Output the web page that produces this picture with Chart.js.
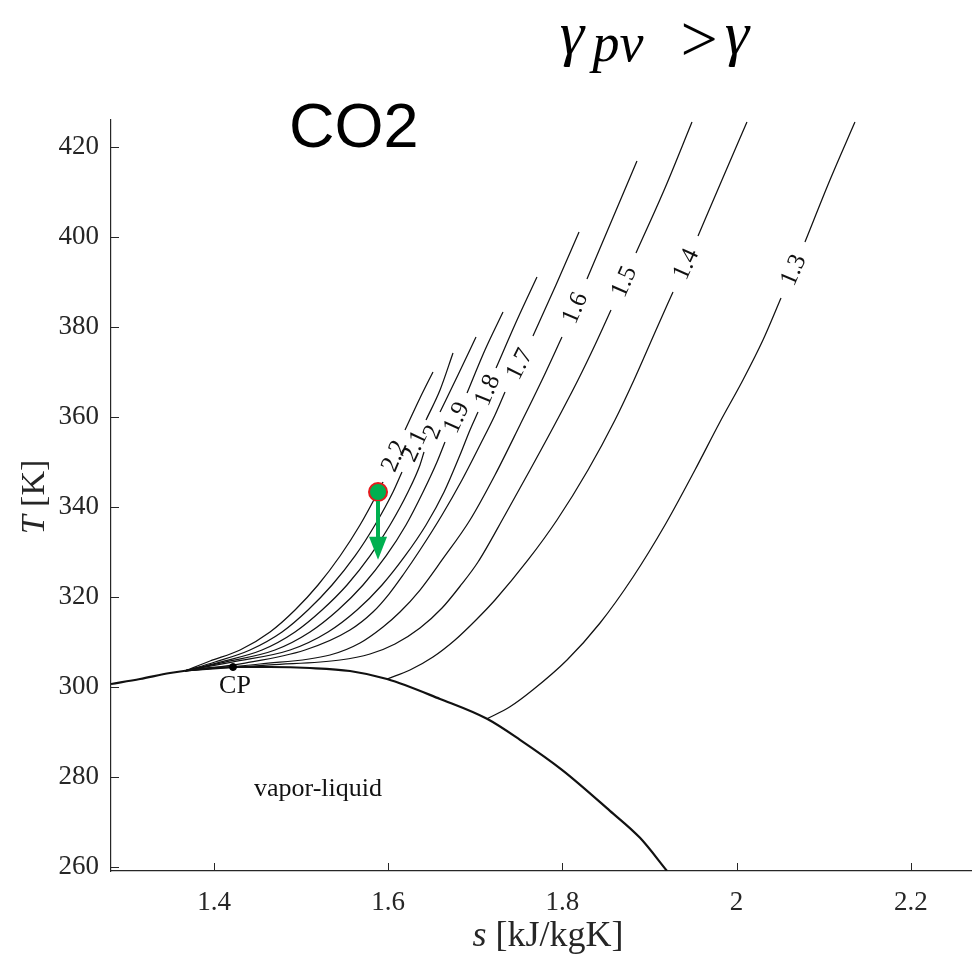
<!DOCTYPE html>
<html>
<head>
<meta charset="utf-8">
<script src="https://cdn.jsdelivr.net/npm/chart.js@4.4.1/dist/chart.umd.min.js"></script>
<style>
  html, body { margin: 0; padding: 0; background: #fff; }
  #wrap { width: 972px; height: 955px; position: relative; }
</style>
</head>
<body>
<div id="wrap"><canvas id="c" width="972" height="955"></canvas></div>
<script>
// Axis ticks
const sTicks = [1.4, 1.6, 1.8, 2.0, 2.2];
const tTicks = [260, 280, 300, 320, 340, 360, 380, 400, 420];

// Saturation dome (kJ/kgK, K)
const s_sat = [1.2817, 1.3150, 1.3495, 1.3839, 1.4218, 1.4643, 1.5102, 1.5561, 1.5986, 1.6595, 1.7134, 1.7513, 1.7995, 1.8546, 1.8891, 1.9201];
const T_sat = [300.58, 301.69, 303.03, 303.92, 304.36, 304.36, 304.14, 303.47, 301.69, 297.26, 292.84, 288.17, 281.50, 272.38, 266.37, 259.0];

// Critical point
const s_cp = [1.4218];
const T_cp = [304.36];

// Iso-gamma contours; null marks where the contour label sits
const s_13 = [1.7134, 1.7398, 1.7662, 1.8053, 1.8432, 1.8811, 1.9178, 1.9522, 1.9809, 2.0073, 2.0303, 2.0510, null, 2.0785, 2.1072, 2.1359];
const T_13 = [292.84, 295.51, 299.29, 305.92, 314.15, 324.38, 335.94, 348.17, 358.85, 368.19, 377.08, 386.42, null, 398.87, 412.67, 425.56];

const s_14 = [1.5986, 1.6250, 1.6514, 1.6767, 1.7008, 1.7226, 1.7605, 1.7938, 1.8294, 1.8604, 1.8822, 1.9075, 1.9270, null, 1.9557, 1.9832, 2.0119];
const T_14 = [301.69, 303.69, 306.58, 310.37, 314.82, 319.26, 328.16, 337.05, 348.17, 359.29, 368.19, 379.31, 387.76, null, 400.21, 412.67, 425.56];

const s_15 = [1.3667, 1.4643, 1.5447, 1.5791, 1.6078, 1.6365, 1.6618, 1.6836, 1.7031, 1.7341, 1.7628, 1.7915, 1.8179, 1.8374, 1.8558, null, 1.8845, 1.9178, 1.9488];
const T_15 = [303.50, 304.81, 305.92, 307.25, 309.48, 313.04, 317.48, 322.60, 327.71, 338.17, 348.17, 358.40, 368.19, 375.97, 383.75, null, 396.43, 410.88, 425.56];

const s_16 = [1.3667, 1.4528, 1.5332, 1.5676, 1.5940, 1.6135, 1.6365, 1.6618, 1.6939, 1.7226, 1.7513, 1.7766, 1.7995, null, 1.8282, 1.8569, 1.8856];
const T_16 = [303.50, 305.03, 307.03, 309.70, 313.26, 316.59, 321.48, 328.16, 337.05, 347.06, 358.18, 368.19, 377.75, null, 390.65, 403.77, 416.89];

const s_17 = [1.3667, 1.4356, 1.5045, 1.5561, 1.5825, 1.6009, 1.6170, 1.6365, 1.6618, 1.6847, 1.7054, 1.7226, 1.7341, null, 1.7662, 1.7926, 1.8191];
const T_17 = [303.50, 305.25, 308.14, 312.59, 316.59, 320.59, 324.82, 330.38, 338.17, 345.95, 353.73, 360.40, 365.52, null, 377.97, 389.31, 401.10];

const s_18 = [1.3667, 1.4207, 1.4873, 1.5309, 1.5642, 1.5929, 1.6193, 1.6434, 1.6641, 1.6824, 1.6939, 1.7031, null, 1.7238, 1.7479, 1.7708];
const T_18 = [303.50, 305.47, 308.14, 312.15, 317.04, 322.60, 329.05, 335.94, 343.28, 351.51, 357.07, 361.07, null, 370.85, 381.53, 391.09];

const s_19 = [1.3667, 1.4126, 1.4700, 1.5102, 1.5424, 1.5711, 1.5975, 1.6204, 1.6400, 1.6560, 1.6652, null, 1.6905, 1.7111, 1.7318];
const T_19 = [303.50, 305.47, 308.14, 312.15, 317.04, 322.60, 329.05, 335.94, 343.28, 349.95, 354.40, null, 365.30, 374.86, 383.31];

const s_20 = [1.3667, 1.4069, 1.4551, 1.4930, 1.5240, 1.5527, 1.5791, 1.6021, 1.6227, 1.6365, 1.6411, null, 1.6595, 1.6801, 1.7008];
const T_20 = [303.50, 305.47, 308.14, 312.15, 317.04, 322.60, 329.05, 335.94, 343.28, 349.29, 352.18, null, 361.07, 369.30, 377.75];

const s_21 = [1.3667, 1.4011, 1.4413, 1.4781, 1.5079, 1.5355, 1.5619, 1.5848, 1.6055, 1.6158, null, 1.6434, 1.6595, 1.6744];
const T_21 = [303.50, 305.47, 308.14, 312.15, 317.04, 322.60, 329.05, 335.94, 343.28, 347.73, null, 359.29, 365.96, 374.19];

const s_22 = [1.3667, 1.3954, 1.4299, 1.4643, 1.4930, 1.5194, 1.5447, 1.5676, 1.5883, 1.5940, null, 1.6193, 1.6365, 1.6514];
const T_22 = [303.50, 305.70, 308.14, 312.15, 317.04, 322.60, 329.05, 335.94, 343.28, 345.51, null, 357.07, 364.18, 369.97];

const gammaLabels = ['1.3', '1.4', '1.5', '1.6', '1.7', '1.8', '1.9', '2', '2.1', '2.2'];
const curveS = [s_13, s_14, s_15, s_16, s_17, s_18, s_19, s_20, s_21, s_22];
const curveT = [T_13, T_14, T_15, T_16, T_17, T_18, T_19, T_20, T_21, T_22];

// Marked state and its downward move
const s_state = [1.5883];
const T_state = [343.28];
const T_stateEnd = [328.2];

const SERIF = '"Liberation Serif", "DejaVu Serif", serif';
const SANS = '"Liberation Sans", Arial, sans-serif';
const AXIS_COLOR = '#262626';
const GREEN = 'rgb(0,176,80)';

function toPoints(sArr, tArr) {
  const pts = [];
  for (let i = 0; i < sArr.length; i++) {
    if (tArr[i] === null) {
      pts.push({ x: sArr[i - 1], y: null });
    } else {
      pts.push({ x: sArr[i], y: tArr[i] });
    }
  }
  return pts;
}

const datasets = [];
datasets.push({
  label: 'state',
  data: toPoints(s_state, T_state),
  showLine: false,
  pointRadius: 9,
  pointBackgroundColor: GREEN,
  pointBorderColor: '#e41a1c',
  pointBorderWidth: 2,
  order: 0
});
datasets.push({
  label: 'sat',
  data: toPoints(s_sat, T_sat),
  showLine: true,
  borderColor: '#111',
  borderWidth: 2.2,
  pointRadius: 0,
  cubicInterpolationMode: 'monotone',
  order: 2
});
datasets.push({
  label: 'cp',
  data: toPoints(s_cp, T_cp),
  showLine: false,
  pointRadius: 3.5,
  pointBackgroundColor: '#000',
  pointBorderColor: '#000',
  order: 1
});
curveS.forEach((sArr, k) => {
  datasets.push({
    label: 'gamma ' + gammaLabels[k],
    data: toPoints(sArr, curveT[k]),
    showLine: true,
    spanGaps: false,
    borderColor: '#111',
    borderWidth: 1.25,
    pointRadius: 0,
    cubicInterpolationMode: 'monotone',
    order: 3
  });
});

function drawMixed(ctx, parts, x, y, align) {
  let total = 0;
  parts.forEach(p => { ctx.font = p.font; p.w = ctx.measureText(p.text).width; total += p.w; });
  let cx = align === 'center' ? x - total / 2 : x;
  parts.forEach(p => {
    ctx.font = p.font;
    ctx.textAlign = 'left';
    ctx.fillText(p.text, cx, y + (p.dy || 0));
    cx += p.w;
  });
}

const decorations = {
  id: 'decorations',
  afterDatasetsDraw(chart) {
    const ctx = chart.ctx;
    const xs = chart.scales.x, ys = chart.scales.y;
    const area = chart.chartArea;

    // inward tick marks
    ctx.save();
    ctx.strokeStyle = AXIS_COLOR;
    ctx.lineWidth = 1;
    sTicks.forEach(v => {
      const px = Math.round(xs.getPixelForValue(v)) + 0.5;
      ctx.beginPath(); ctx.moveTo(px, area.bottom); ctx.lineTo(px, area.bottom - 8); ctx.stroke();
    });
    tTicks.forEach(v => {
      const py = Math.round(ys.getPixelForValue(v)) + 0.5;
      ctx.beginPath(); ctx.moveTo(area.left, py); ctx.lineTo(area.left + 8, py); ctx.stroke();
    });
    ctx.restore();

    // contour labels in the line gaps
    ctx.save();
    ctx.fillStyle = '#111';
    ctx.font = '25px ' + SERIF;
    ctx.textAlign = 'center';
    ctx.textBaseline = 'middle';
    curveS.forEach((sArr, k) => {
      const tArr = curveT[k];
      const i = tArr.indexOf(null);
      const x1 = xs.getPixelForValue(sArr[i - 1]), y1 = ys.getPixelForValue(tArr[i - 1]);
      const x2 = xs.getPixelForValue(sArr[i + 1]), y2 = ys.getPixelForValue(tArr[i + 1]);
      const ang = Math.atan2(y2 - y1, x2 - x1);
      ctx.save();
      ctx.translate((x1 + x2) / 2, (y1 + y2) / 2);
      ctx.rotate(ang);
      ctx.fillText(gammaLabels[k], 0, 1);
      ctx.restore();
    });
    ctx.restore();

    // region / point annotations
    ctx.save();
    ctx.fillStyle = '#111';
    ctx.textBaseline = 'alphabetic';
    ctx.textAlign = 'center';
    ctx.font = '26px ' + SERIF;
    ctx.fillText('CP', xs.getPixelForValue(s_cp[0]) + 2, ys.getPixelForValue(T_cp[0]) + 26);
    ctx.fillText('vapor-liquid', 318, 796);
    ctx.restore();

    // arrow from the marked state
    ctx.save();
    const ax = xs.getPixelForValue(s_state[0]);
    const ay0 = ys.getPixelForValue(T_state[0]) + 9;
    const ay1 = ys.getPixelForValue(T_stateEnd[0]);
    ctx.strokeStyle = GREEN;
    ctx.fillStyle = GREEN;
    ctx.lineWidth = 4;
    ctx.beginPath(); ctx.moveTo(ax, ay0); ctx.lineTo(ax, ay1 - 18); ctx.stroke();
    ctx.beginPath();
    ctx.moveTo(ax - 9, ay1 - 23);
    ctx.lineTo(ax + 9, ay1 - 23);
    ctx.lineTo(ax, ay1);
    ctx.closePath();
    ctx.fill();
    ctx.restore();
  },
  afterDraw(chart) {
    const ctx = chart.ctx;
    ctx.save();
    ctx.fillStyle = AXIS_COLOR;
    ctx.textBaseline = 'alphabetic';
    // x axis title
    drawMixed(ctx, [
      { text: 's', font: 'italic 36px ' + SERIF },
      { text: ' [kJ/kgK]', font: '36px ' + SERIF }
    ], 548, 946, 'center');
    // y axis title
    ctx.save();
    ctx.translate(44, 497);
    ctx.rotate(-Math.PI / 2);
    drawMixed(ctx, [
      { text: 'T', font: 'italic 34px ' + SERIF },
      { text: ' [K]', font: '34px ' + SERIF }
    ], 0, 0, 'center');
    ctx.restore();
    ctx.restore();

    // headline texts
    ctx.save();
    ctx.fillStyle = '#000';
    ctx.textBaseline = 'alphabetic';
    ctx.font = '63px ' + SANS;
    ctx.textAlign = 'left';
    ctx.fillText('CO2', 289, 147);
    ctx.textAlign = 'center';
    ctx.font = 'italic 62px ' + SERIF;
    ctx.fillText('γ', 572, 54);
    ctx.font = 'italic 54px ' + SERIF;
    ctx.fillText('pv', 618, 61);
    ctx.font = '66px ' + SERIF;
    ctx.fillText('>', 699, 61);
    ctx.font = 'italic 62px ' + SERIF;
    ctx.fillText('γ', 737, 54);
    ctx.restore();
  }
};

new Chart(document.getElementById('c'), {
  type: 'scatter',
  data: { datasets },
  options: {
    responsive: false,
    animation: false,
    devicePixelRatio: 1,
    layout: { padding: { top: 120, right: 0, left: 0, bottom: 0 }, autoPadding: false },
    plugins: { legend: { display: false }, tooltip: { enabled: false } },
    scales: {
      x: {
        type: 'linear',
        min: 1.2817,
        max: 2.2703,
        afterBuildTicks: s => { s.ticks = sTicks.map(v => ({ value: v })); },
        afterFit: s => { s.height = 84; },
        grid: { display: false, drawTicks: false },
        border: { display: true, color: AXIS_COLOR, width: 1.2 },
        ticks: {
          padding: 16,
          color: AXIS_COLOR,
          font: { family: SERIF, size: 27 },
          maxRotation: 0,
          callback: v => String(Math.round(v * 10) / 10)
        }
      },
      y: {
        type: 'linear',
        min: 259,
        max: 426,
        afterBuildTicks: s => { s.ticks = tTicks.map(v => ({ value: v })); },
        afterFit: s => { s.width = 111; },
        grid: { display: false, drawTicks: false },
        border: { display: true, color: AXIS_COLOR, width: 1.2 },
        ticks: {
          padding: 12,
          color: AXIS_COLOR,
          font: { family: SERIF, size: 27 },
          callback: v => String(v)
        }
      }
    }
  },
  plugins: [decorations]
});
</script>
</body>
</html>
